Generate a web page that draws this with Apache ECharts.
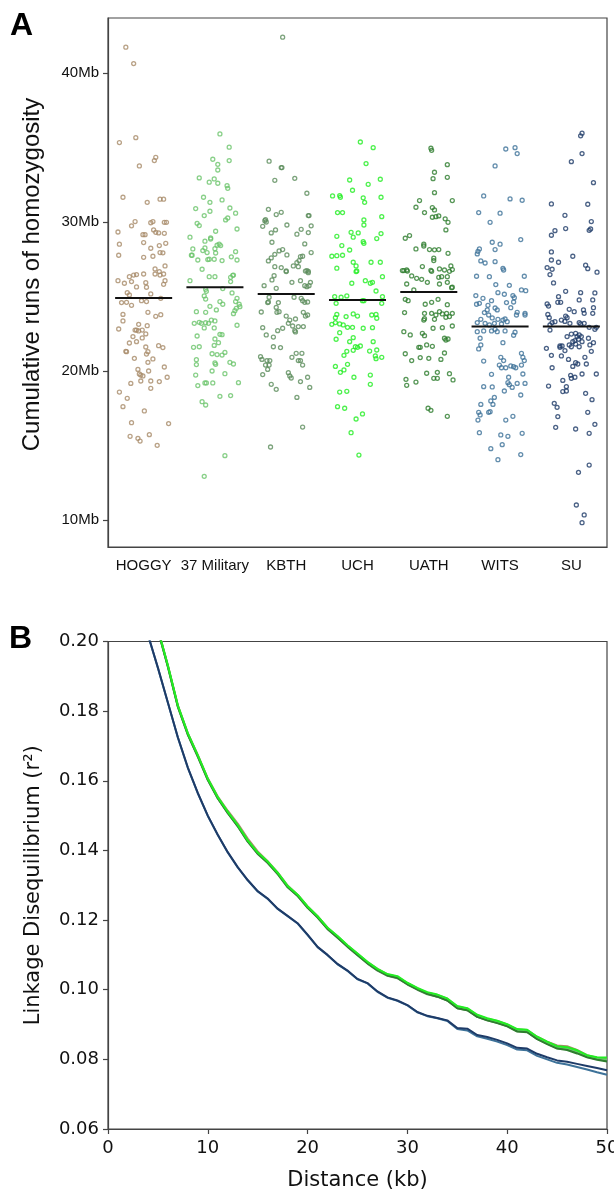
<!DOCTYPE html>
<html><head><meta charset="utf-8">
<script src="https://cdn.jsdelivr.net/npm/echarts@6/dist/echarts.min.js"></script>
<style>html,body{margin:0;padding:0;background:#fff}#c{width:614px;height:1193px}</style>
</head><body><div id="c"></div>
<script>
// ---------- Panel A data ----------
const groups = ['HOGGY','37 Military','KBTH','UCH','UATH','WITS','SU'];
const groupColors = ['#a88b69','#6cc46c','#5b8c5b','#22ee22','#2e7d2e','#3d7299','#1e3b68'];
const groupMeans = [24.9,25.62,25.17,24.77,25.3,22.98,22.98];
const yTicksA = [10,20,30,40];

// [horizontal jitter (category units), Mb]
const hoggy = [[-0.25,41.73],[-0.14,40.63],[-0.34,35.33],[-0.11,35.66],[-0.06,33.76],[0.15,34.12],[0.17,34.34],[-0.29,31.66],[0.05,31.32],[0.23,31.53],[0.28,31.53],[-0.12,30.03],[-0.17,29.74],[0.1,29.95],[0.13,30.03],[0.29,29.98],[0.32,29.98],[-0.36,29.33],[-0.01,29.15],[0.02,29.15],[0.14,29.47],[0.17,29.31],[0.21,29.27],[0.29,29.24],[-0.34,28.51],[0,28.62],[0.31,28.57],[0.1,28.24],[0.22,28.42],[0.23,27.95],[0.27,27.93],[-0.35,27.77],[0,27.63],[0.13,27.7],[0.3,27.05],[0.16,26.85],
[-0.36,26.06],[-0.27,25.89],[-0.2,26.33],[-0.14,26.44],[-0.1,26.47],[0,26.51],[-0.17,26.0],[-0.1,25.64],[0.03,25.93],[0.04,25.62],[0.16,26.51],[0.23,26.44],[0.28,26.51],[0.22,26.67],[0.3,26.06],[0.28,25.82],[-0.23,25.26],[-0.2,25.1],[0.1,25.17],[-0.31,24.59],[-0.24,24.61],[-0.17,24.41],[-0.03,24.72],[0.04,24.66],[0.24,24.88],[-0.29,23.8],[0.06,23.94],[0.17,23.67],[0.24,23.78],[-0.29,23.36],[-0.35,22.82],[-0.07,23.13],[0.05,23.04],[-0.12,22.75],[-0.1,22.75],[-0.07,22.69],[-0.02,22.75],[0.03,22.49],[-0.15,22.31],[-0.02,22.22],[-0.2,21.88],[-0.1,21.97],[0.03,21.61],[0.21,21.7],[0.27,21.57],[-0.25,21.32],[-0.24,21.3],[0.06,21.3],[0.04,21.14],[0.13,20.81],[-0.13,20.85],[0.06,20.58],[0.29,20.27],[-0.08,20.11],[-0.06,19.8],[-0.04,19.73],[-0.01,19.67],[0.07,20.0],[-0.18,19.17],[-0.04,19.33],[0.1,19.33],[0.22,19.29],[0.33,19.58],[0.1,18.84],[-0.34,18.59],[-0.23,18.17],[-0.29,17.61],[0.01,17.32],[-0.17,16.53],[0.35,16.47],[-0.19,15.62],[-0.08,15.48],[-0.05,15.3],[0.08,15.73],[0.19,15.01]];

const military37 = [[0.07,35.91],[0.2,35.02],[0.2,34.12],[-0.03,34.21],[0.04,33.87],[0.04,33.49],[-0.22,32.96],[-0.08,32.67],[-0.01,32.89],[0.04,32.6],[0.17,32.44],[0.18,32.26],[-0.16,31.66],[0.1,31.48],[-0.07,31.32],[-0.27,30.9],[0.21,30.94],[-0.15,30.43],[-0.07,30.72],[0.29,30.59],[0.15,30.14],[0.18,30.27],[-0.25,29.91],[-0.22,29.76],[0.31,29.53],[0.01,29.38],[-0.35,28.98],[-0.14,28.71],[-0.06,28.93],[-0.06,28.86],[0.03,28.44],[0.06,28.51],[0.08,28.42],[-0.31,28.19],[-0.33,27.77],[-0.32,27.77],[-0.17,28.08],[-0.14,28.26],[-0.11,27.95],[0,28.21],[0.01,27.92],[0.29,28.01],[-0.24,27.45],[-0.1,27.48],[-0.08,27.5],[-0.01,27.5],[0.1,27.41],[0.23,27.66],[0.31,27.45],[-0.18,26.83],
[-0.35,26.06],[-0.08,26.33],[0,26.33],[0.22,26.29],[0.25,26.42],[0.26,26.44],[0.22,26.0],[-0.13,25.48],[-0.12,25.35],[0.11,25.53],[-0.15,25.04],[-0.13,24.83],[0.24,25.24],[0.31,24.88],[0.29,24.66],[0.07,24.66],[0.11,24.48],[0.34,24.48],[0.35,24.32],[0.3,24.21],[-0.07,24.34],[-0.26,23.98],[-0.13,23.94],[0.02,24.1],[0.28,24.05],[0.26,23.85],[-0.05,23.42],[0,23.36],[-0.29,23.2],[-0.22,23.27],[-0.19,23.2],[-0.13,23.24],[-0.09,23.2],[-0.15,22.89],[-0.01,22.89],[0.31,23.07],[-0.25,22.35],[0.07,22.46],[0.1,22.44],[0,22.15],[0.05,21.9],[-0.01,21.72],[-0.3,21.59],[-0.22,21.63],[-0.04,21.16],[0.03,21.1],[0.1,21.07],[0.14,21.25],[-0.26,20.76],[-0.26,20.43],[0,20.54],[0.01,20.45],[0.21,20.58],[0.26,20.47],[-0.04,20.0],[-0.27,19.73],[0.14,19.82],[-0.24,19.02],[-0.14,19.2],[-0.12,19.2],[-0.03,19.2],[0.33,19.22],[0.07,18.3],[0.22,18.35],[-0.18,17.94],[-0.13,17.72],[0.14,14.32],[-0.15,12.93]];

const kbth = [[-0.05,42.4],[-0.24,34.08],[-0.07,33.65],[-0.06,33.65],[-0.16,32.8],[0.12,32.93],[0.29,31.93],[-0.25,30.85],[-0.14,30.5],[-0.07,30.65],[-0.3,30.09],[-0.29,30.16],[-0.28,30.0],[-0.33,29.71],[0.01,29.8],[0.31,30.43],[0.32,30.43],[0.35,29.74],[-0.21,29.27],[-0.15,29.47],[0.15,29.18],[0.21,29.51],[0.31,29.29],[-0.2,28.64],[0.26,28.53],[-0.1,28.06],[-0.05,28.15],[-0.16,27.83],[-0.21,27.59],[-0.25,27.39],[0.01,27.79],[0.2,27.68],[0.23,27.7],[0.18,27.41],[0.15,27.28],[0.35,27.95],[-0.16,27.0],[-0.07,26.94],[0,26.72],[0.1,27.05],[0.17,27.0],[0.29,26.74],[0.31,26.69],
[-0.31,25.73],[-0.2,26.11],[-0.17,26.4],[0,26.67],[-0.14,25.55],[0.08,25.95],[0.2,26.06],[0.27,26.71],[0.31,26.6],[0.34,25.95],[0.32,25.73],[0.29,25.66],[0.26,25.73],[-0.24,24.95],[-0.25,24.63],[-0.26,24.59],[-0.11,24.59],[-0.14,24.27],[-0.35,23.96],[-0.13,23.94],[-0.1,23.98],[0.11,24.95],[0.21,24.88],[0.23,24.72],[0.26,24.61],[0.3,24.63],[0,23.69],[0.05,23.42],[0.03,23.2],[0.09,23.02],[0.13,23.49],[0.24,23.94],[0.3,23.76],[0.27,23.69],[-0.33,22.91],[-0.12,22.71],[-0.05,22.87],[-0.28,22.42],[-0.18,22.28],[0.12,22.71],[0.13,22.62],[0.24,22.98],[0.17,22.98],[-0.18,21.63],[-0.08,21.57],[-0.36,20.96],[-0.34,20.78],[-0.27,20.7],[-0.23,20.7],[-0.29,20.4],[-0.24,20.4],[-0.26,20.11],[-0.33,19.76],[0.08,20.92],[0.14,21.19],[0.22,21.19],[0.17,20.7],[0.2,20.7],[0.23,20.4],[0.03,19.89],[0.05,19.67],[0.07,19.53],[0.2,19.29],[0.3,19.58],[0.33,18.9],[-0.21,19.11],[-0.14,18.77],[0.15,18.23],[0.23,16.24],[-0.22,14.9]];

const uch = [[0.04,35.37],[0.22,34.99],[0.12,33.92],[-0.11,32.82],[0.32,32.87],[0.15,32.53],[-0.07,32.13],[-0.35,31.75],[-0.25,31.77],[-0.24,31.66],[0.08,31.62],[0.1,31.32],[0.33,31.66],[-0.28,30.63],[-0.21,30.63],[0.34,30.36],[0.09,30.14],[0.09,29.8],[-0.09,29.31],[-0.06,28.98],[0.01,29.27],[0.27,28.89],[0.33,29.22],[-0.29,29.04],[-0.22,28.42],[-0.11,28.12],[0.08,28.68],[0.09,28.57],[-0.36,27.7],[-0.29,27.74],[-0.21,27.77],[-0.06,27.3],[-0.02,27.05],[0.19,27.3],[0.32,27.3],[-0.29,26.9],[-0.01,26.72],
[-0.02,26.67],[0.35,26.33],[-0.08,25.89],[0.11,26.06],[0.18,25.89],[0.21,25.95],[0.26,25.37],[-0.32,24.99],[-0.23,24.95],[-0.15,25.04],[0.07,24.72],[0.09,24.72],[0.35,24.99],[0.34,24.54],[-0.3,24.54],[-0.29,23.8],[-0.31,23.58],[-0.16,23.65],[-0.06,23.83],[0,23.69],[0.2,23.76],[0.26,23.8],[0.27,23.54],[-0.36,23.13],[-0.31,23.25],[-0.25,23.16],[-0.2,23.09],[-0.14,22.93],[-0.07,22.93],[0.08,22.87],[0.21,22.91],[-0.25,22.57],[-0.3,22.13],[-0.06,22.24],[-0.11,21.97],[-0.03,21.63],[0,21.59],[0.04,21.68],[0.22,21.97],[0.27,21.41],[0.25,21.01],[0.26,20.83],[0.34,20.92],[-0.06,21.39],[-0.15,21.32],[-0.19,21.05],[0.17,21.34],[-0.31,20.31],[-0.14,20.45],[-0.19,20.07],[-0.24,19.91],[-0.05,19.58],[0.18,19.73],[0.18,19.11],[-0.25,18.59],[-0.15,18.64],[-0.28,17.61],[-0.18,17.5],[-0.02,16.78],[0.07,17.12],[-0.09,15.86],[0.02,14.36]];

const uath = [[0.03,34.95],[0.04,34.81],[0.26,33.85],[0.08,33.34],[0.26,33.0],[0.06,32.91],[0.08,31.97],[-0.13,31.44],[-0.18,30.99],[0.33,31.44],[-0.06,30.63],[0.05,30.97],[0.08,30.81],[0.1,30.36],[0.05,30.32],[0.14,30.41],[0.23,30.21],[0.27,29.98],[0.24,29.47],[-0.33,28.91],[-0.27,29.09],[-0.07,28.51],[-0.07,28.39],[-0.18,28.19],[0.01,28.15],[0.08,28.13],[0.14,28.15],[0.27,27.9],[0.07,27.57],[0.07,27.41],[-0.09,27.01],[0.03,26.76],[0.15,26.85],[0.22,26.78],[0.31,27.05],[0.33,26.81],[-0.35,26.74],[-0.31,26.78],
[-0.37,26.74],[-0.3,26.71],[-0.24,26.38],[-0.17,26.22],[-0.1,26.15],[-0.02,25.95],[0.04,26.69],[0.14,26.29],[0.18,26.33],[0.26,26.33],[0.29,26.69],[0.15,25.84],[0.26,25.95],[0.32,25.59],[0.33,25.62],[-0.31,25.84],[-0.21,25.44],[-0.33,24.81],[-0.29,24.72],[0.13,24.81],[-0.05,24.48],[0.04,24.61],[0.26,24.45],[-0.34,23.92],[-0.06,23.87],[0.04,23.87],[0.1,23.76],[0.15,23.98],[0.19,23.83],[0.25,23.87],[0.33,23.87],[-0.07,23.42],[-0.06,23.51],[0.08,23.47],[0.24,23.6],[0.29,23.65],[0.33,23.02],[0.19,22.91],[0.06,22.87],[-0.35,22.64],[-0.26,22.42],[-0.09,22.53],[-0.06,22.37],[0.22,22.2],[0.24,22.08],[0.27,22.15],[-0.03,21.75],[0.05,21.66],[-0.14,21.59],[-0.12,21.59],[-0.33,21.16],[0.22,21.21],[-0.24,20.7],[-0.12,20.9],[0,20.85],[0.17,20.78],[-0.03,19.85],[0.07,19.51],[0.12,19.91],[0.12,19.51],[0.29,19.82],[0.34,19.4],[-0.32,19.44],[-0.31,19.04],[-0.18,19.26],[-0.01,17.5],[0.03,17.36],[0.26,16.96]];

const wits = [[0.08,34.9],[0.21,34.99],[0.24,34.59],[-0.07,33.76],[-0.23,31.75],[0.14,31.55],[0.31,31.46],[-0.3,30.63],[0,30.59],[-0.14,29.98],[0.29,28.82],[-0.11,28.64],[0,28.51],[-0.07,28.15],[-0.29,28.19],[-0.31,28.03],[-0.32,27.86],[-0.27,27.39],[-0.21,27.25],[-0.07,27.34],[0.04,26.89],[0.05,26.78],
[-0.33,26.36],[-0.15,26.33],[0.34,26.36],[-0.06,25.8],[0.13,25.75],[-0.03,25.26],[0.06,25.15],[0.18,25.06],[0.2,24.92],[0.3,25.44],[0.36,25.39],[-0.34,25.06],[-0.24,24.88],[-0.12,24.72],[0.09,24.59],[0.19,24.63],[-0.33,24.48],[-0.29,24.54],[-0.17,24.41],[-0.07,24.23],[-0.04,24.1],[0.15,24.25],[0.35,23.87],[0.35,23.76],[-0.22,23.92],[-0.18,24.1],[-0.16,23.76],[-0.11,23.56],[-0.03,23.47],[0.04,23.42],[0.07,23.49],[0.1,23.31],[0.23,23.76],[0.24,23.94],[-0.32,23.25],[-0.27,23.47],[-0.21,23.2],[-0.15,23.09],[-0.08,23.2],[0.02,23.16],[-0.32,22.64],[-0.23,22.69],[-0.12,22.69],[-0.07,22.8],[-0.04,22.64],[0.07,22.69],[0.21,22.6],[0.19,22.4],[-0.28,22.2],[-0.27,21.75],[-0.3,21.48],[0.04,21.9],[-0.23,20.67],[0.3,21.19],[0.32,20.92],[0.34,20.7],[0.01,20.92],[0.05,20.7],[-0.01,20.4],[0.02,20.22],[0.08,20.22],[0.15,20.34],[0.19,20.29],[0.22,20.22],[0.3,20.4],[0.32,19.8],[-0.12,19.78],[-0.23,18.95],[-0.11,18.93],[0.12,19.58],[0.11,19.22],[0.13,19.08],[0.17,18.9],[0.24,19.17],[0.35,19.17],[0.06,18.66],[0.29,18.39],[-0.08,18.23],[-0.13,17.99],[-0.27,17.76],[-0.1,17.76],[-0.16,17.23],[-0.14,17.27],[-0.3,17.23],[-0.28,17.05],[-0.31,16.71],[0.08,16.71],[0.18,16.96],[-0.29,15.86],[0.01,15.71],[0.11,15.62],[0.31,15.82],[0.03,15.06],[-0.13,14.79],[0.29,14.39],[-0.03,14.05]];

const su = [[0.15,35.96],[0.13,35.78],[0.15,34.59],[0,34.05],[0.31,32.64],[-0.28,31.21],[0.23,31.19],[-0.09,30.45],[0.28,30.03],[0.25,29.44],[0.27,29.53],[-0.23,29.42],[-0.08,29.56],[-0.28,29.11],[-0.28,27.99],[-0.28,27.45],[-0.18,27.3],[0.02,27.7],[0.2,27.1],[0.23,26.87],[0.36,26.63],[-0.34,26.94],[-0.27,26.83],[-0.3,26.47],
[-0.25,25.91],[-0.08,25.35],[0.13,25.26],[0.33,25.24],[-0.18,24.99],[-0.15,24.61],[-0.19,24.61],[0.11,24.77],[0.3,24.77],[0.31,24.25],[-0.34,24.5],[-0.32,24.36],[-0.33,23.8],[-0.31,23.58],[-0.03,24.14],[-0.08,23.69],[-0.06,23.58],[0.04,23.98],[0.17,24.1],[0.18,23.87],[0.3,23.87],[0.13,23.16],[0.11,23.25],[0.18,23.2],[0.25,22.93],[0.33,22.8],[0.35,22.93],[-0.3,23.09],[-0.27,23.25],[-0.23,23.31],[-0.14,23.42],[-0.09,23.33],[-0.02,23.2],[-0.3,22.75],[-0.06,22.31],[0,22.48],[0.06,22.53],[0.08,22.31],[0.11,22.42],[0.14,22.31],[0.05,22.04],[0.1,22.13],[0.06,21.81],[0.11,21.63],[0.15,21.97],[0.24,22.2],[0.26,21.75],[0.31,21.9],[0.02,21.97],[0,21.63],[-0.03,21.75],[-0.13,21.68],[-0.16,21.68],[-0.09,21.37],[-0.16,21.59],[0.28,21.32],[-0.35,21.52],[-0.28,21.05],[-0.14,21.01],[-0.04,20.78],[0.06,20.56],[0.09,20.47],[0.21,20.47],[0.19,20.92],[-0.27,20.22],[0.02,20.31],[-0.32,18.99],[-0.12,19.37],[-0.07,18.95],[-0.12,18.62],[-0.07,18.66],[0,19.51],[0.05,19.58],[-0.01,19.71],[0.15,19.8],[0.35,19.8],[0.2,18.5],[0.29,18.08],[-0.24,17.83],[-0.2,17.56],[-0.19,16.94],[0.23,17.23],[0.33,16.42],[0.06,16.11],[-0.22,16.22],[0.25,15.82],[0.25,13.69],[0.1,13.2],[0.07,11.01],[0.18,10.34],[0.15,9.82]];

const groupPoints = [hoggy, military37, kbth, uch, uath, wits, su];

// ---------- Panel B data ----------
const distKb = [3,4,5,6,7,8,9,10,11,12,13,14,15,16,17,18,19,20,21,22,23,24,25,26,27,28,29,30,31,32,33,34,35,36,37,38,39,40,41,42,43,44,45,46,47,48,49,50];
const yTicksB = [0.06,0.08,0.10,0.12,0.14,0.16,0.18,0.20];
const ldHoggy = [0.229,0.2167,0.2037,0.1932,0.1817,0.1737,0.1674,0.1607,0.1555,0.1514,0.1477,0.1434,0.1397,0.1369,0.1337,0.1299,0.1273,0.1239,0.1211,0.1178,0.1153,0.1127,0.1103,0.1079,0.1060,0.1044,0.1037,0.1019,0.1004,0.0991,0.0985,0.0974,0.0951,0.0946,0.0927,0.0917,0.0910,0.0900,0.0886,0.0884,0.0865,0.0851,0.0840,0.0838,0.0827,0.0812,0.0805,0.0800];
const ldMilitary = [0.229,0.2165,0.2035,0.1930,0.1815,0.1735,0.1672,0.1605,0.1552,0.1510,0.1472,0.1428,0.1393,0.1367,0.1335,0.1297,0.1272,0.1238,0.1210,0.1177,0.1152,0.1126,0.1102,0.1078,0.1058,0.1043,0.1036,0.1018,0.1003,0.0990,0.0983,0.0972,0.0950,0.0944,0.0925,0.0915,0.0908,0.0899,0.0884,0.0882,0.0862,0.0848,0.0835,0.0832,0.0823,0.0810,0.0804,0.0799];
const ldKbth = [0.229,0.2163,0.2032,0.1927,0.1812,0.1732,0.1669,0.1602,0.1549,0.1507,0.1469,0.1425,0.1390,0.1364,0.1332,0.1294,0.1269,0.1235,0.1207,0.1174,0.1149,0.1123,0.1099,0.1075,0.1055,0.1040,0.1033,0.1015,0.1000,0.0987,0.0980,0.0969,0.0947,0.0941,0.0922,0.0912,0.0905,0.0896,0.0881,0.0879,0.0859,0.0845,0.0832,0.0829,0.0820,0.0807,0.0801,0.0796];
const ldUath = [0.229,0.2164,0.2033,0.1928,0.1813,0.1733,0.1670,0.1603,0.1550,0.1508,0.1470,0.1426,0.1391,0.1365,0.1333,0.1295,0.1270,0.1236,0.1208,0.1175,0.1150,0.1124,0.1100,0.1076,0.1056,0.1041,0.1034,0.1016,0.1001,0.0988,0.0980,0.0969,0.0947,0.0941,0.0922,0.0912,0.0904,0.0895,0.0880,0.0878,0.0858,0.0844,0.0831,0.0827,0.0817,0.0806,0.0799,0.0794];
const ldUch = [0.229,0.2166,0.2036,0.1931,0.1816,0.1736,0.1673,0.1606,0.1553,0.1511,0.1473,0.1429,0.1394,0.1368,0.1336,0.1298,0.1273,0.1239,0.1211,0.1178,0.1154,0.1128,0.1104,0.1080,0.1060,0.1045,0.1039,0.1020,0.1005,0.0993,0.0986,0.0975,0.0953,0.0947,0.0928,0.0918,0.0911,0.0901,0.0887,0.0885,0.0865,0.0851,0.0838,0.0835,0.0826,0.0812,0.0806,0.0805];
const ldWits = [0.212,0.2019,0.1924,0.1824,0.1724,0.1637,0.1564,0.1499,0.1444,0.1394,0.1351,0.1314,0.1282,0.1261,0.1232,0.1211,0.1190,0.1157,0.1122,0.1099,0.1073,0.1054,0.1030,0.1018,0.0994,0.0977,0.0968,0.0955,0.0935,0.0924,0.0918,0.0910,0.0887,0.0883,0.0866,0.0859,0.0851,0.0841,0.0828,0.0826,0.0810,0.0800,0.0790,0.0785,0.0778,0.0771,0.0763,0.0756];
const ldSu = [0.212,0.2020,0.1925,0.1825,0.1725,0.1638,0.1565,0.1500,0.1445,0.1395,0.1352,0.1315,0.1283,0.1262,0.1233,0.1212,0.1191,0.1158,0.1123,0.1100,0.1074,0.1055,0.1031,0.1019,0.0995,0.0978,0.0969,0.0956,0.0936,0.0925,0.0919,0.0912,0.0890,0.0888,0.0870,0.0864,0.0856,0.0846,0.0833,0.0831,0.0816,0.0806,0.0797,0.0793,0.0787,0.0781,0.0775,0.0769];
// drawing order (last on top)
const ldSeries = [
  {name:'HOGGY', values: ldHoggy, color:'#a88b69'},
  {name:'KBTH', values: ldKbth, color:'#5b8c5b'},
  {name:'37 Military', values: ldMilitary, color:'#6cc46c'},
  {name:'UATH', values: ldUath, color:'#2e7d2e'},
  {name:'UCH', values: ldUch, color:'#22ee22'},
  {name:'WITS', values: ldWits, color:'#3d7299'},
  {name:'SU', values: ldSu, color:'#1e3b68'}
];

// ---------- chart ----------
const chart = echarts.init(document.getElementById('c'), null, {renderer:'canvas'});
const fontA = 'Liberation Sans';
const fontB = 'DejaVu Sans';
const axisCol = '#444';

const series = [];
groupPoints.forEach((pts, i) => {
  series.push({
    type:'scatter', xAxisIndex:0, yAxisIndex:0, symbol:'circle', symbolSize:4,
    itemStyle:{color:'rgba(255,255,255,0)', borderColor:groupColors[i], borderWidth:1.3},
    data: pts.map(p => [i + p[0], p[1]]), silent:true, z:2
  });
});
groupMeans.forEach((m, i) => {
  series.push({
    type:'line', xAxisIndex:0, yAxisIndex:0, showSymbol:false, symbol:'none',
    lineStyle:{color:'#111', width:2}, data:[[i-0.4, m],[i+0.4, m]], silent:true, z:5
  });
});
ldSeries.forEach(s => {
  series.push({
    type:'line', xAxisIndex:1, yAxisIndex:1, showSymbol:false, symbol:'none', clip:true,
    lineStyle:{color:s.color, width:2}, data: distKb.map((d, k) => [d, s.values[k]]), silent:true
  });
});

chart.setOption({
  animation:false,
  backgroundColor:'#fff',
  grid:[
    {left:108, top:18, width:499, height:529, show:true, borderColor:axisCol, borderWidth:1.2, backgroundColor:'transparent', containLabel:false, outerBoundsMode:'none'},
    {left:108, top:641.5, width:499, height:487.5, show:true, borderColor:axisCol, borderWidth:1.2, backgroundColor:'transparent', containLabel:false, outerBoundsMode:'none'}
  ],
  xAxis:[
    {gridIndex:0, type:'value', min:-0.5, max:6.5,
     axisLine:{show:true, onZero:false, lineStyle:{color:axisCol, width:1.2}}, axisTick:{show:false}, splitLine:{show:false},
     axisLabel:{customValues:[0,1,2,3,4,5,6], formatter:v => groups[Math.round(v)], fontFamily:fontA, fontSize:15, color:'#111', margin:11}},
    {gridIndex:1, type:'value', min:0, max:50, interval:10,
     axisLine:{show:true, onZero:false, lineStyle:{color:axisCol, width:1.2}}, axisTick:{show:true, length:5, lineStyle:{color:axisCol, width:1.2}}, splitLine:{show:false},
     axisLabel:{fontFamily:fontB, fontSize:18, color:'#111', margin:10},
     name:'Distance (kb)', nameLocation:'middle', nameGap:41, nameTextStyle:{fontFamily:fontB, fontSize:21, color:'#111'}}
  ],
  yAxis:[
    {gridIndex:0, type:'value', min:8.19, max:43.69,
     axisLine:{show:true, onZero:false, lineStyle:{color:axisCol, width:1.2}},
     axisTick:{show:true, customValues:yTicksA, length:5, lineStyle:{color:axisCol, width:1.2}}, splitLine:{show:false},
     axisLabel:{customValues:yTicksA, formatter:v => v + 'Mb', fontFamily:fontA, fontSize:15, color:'#111', margin:9}},
    {gridIndex:1, type:'value', min:0.06, max:0.20,
     axisLine:{show:true, onZero:false, lineStyle:{color:axisCol, width:1.2}},
     axisTick:{show:true, customValues:yTicksB, length:5, lineStyle:{color:axisCol, width:1.2}}, splitLine:{show:false},
     axisLabel:{customValues:yTicksB, formatter:v => v.toFixed(2), fontFamily:fontB, fontSize:18, color:'#111', margin:9},
     name:'Linkage Disequilibrium (r²)', nameLocation:'middle', nameGap:64,
     nameTextStyle:{fontFamily:fontB, fontSize:21, color:'#111'}}
  ],
  graphic:[
    {type:'text', left:10, top:10, style:{text:'A', font:'bold 32px "Liberation Sans"', fill:'#000'}},
    {type:'text', left:9, top:623, style:{text:'B', font:'bold 32px "Liberation Sans"', fill:'#000'}},
    {type:'text', x:32, y:274.5, rotation:Math.PI/2,
     style:{text:'Cumulative runs of homozygosity', font:'24px "Liberation Sans"', fill:'#111', align:'center', verticalAlign:'middle'}}
  ],
  series: series
});
</script>
</body></html>
